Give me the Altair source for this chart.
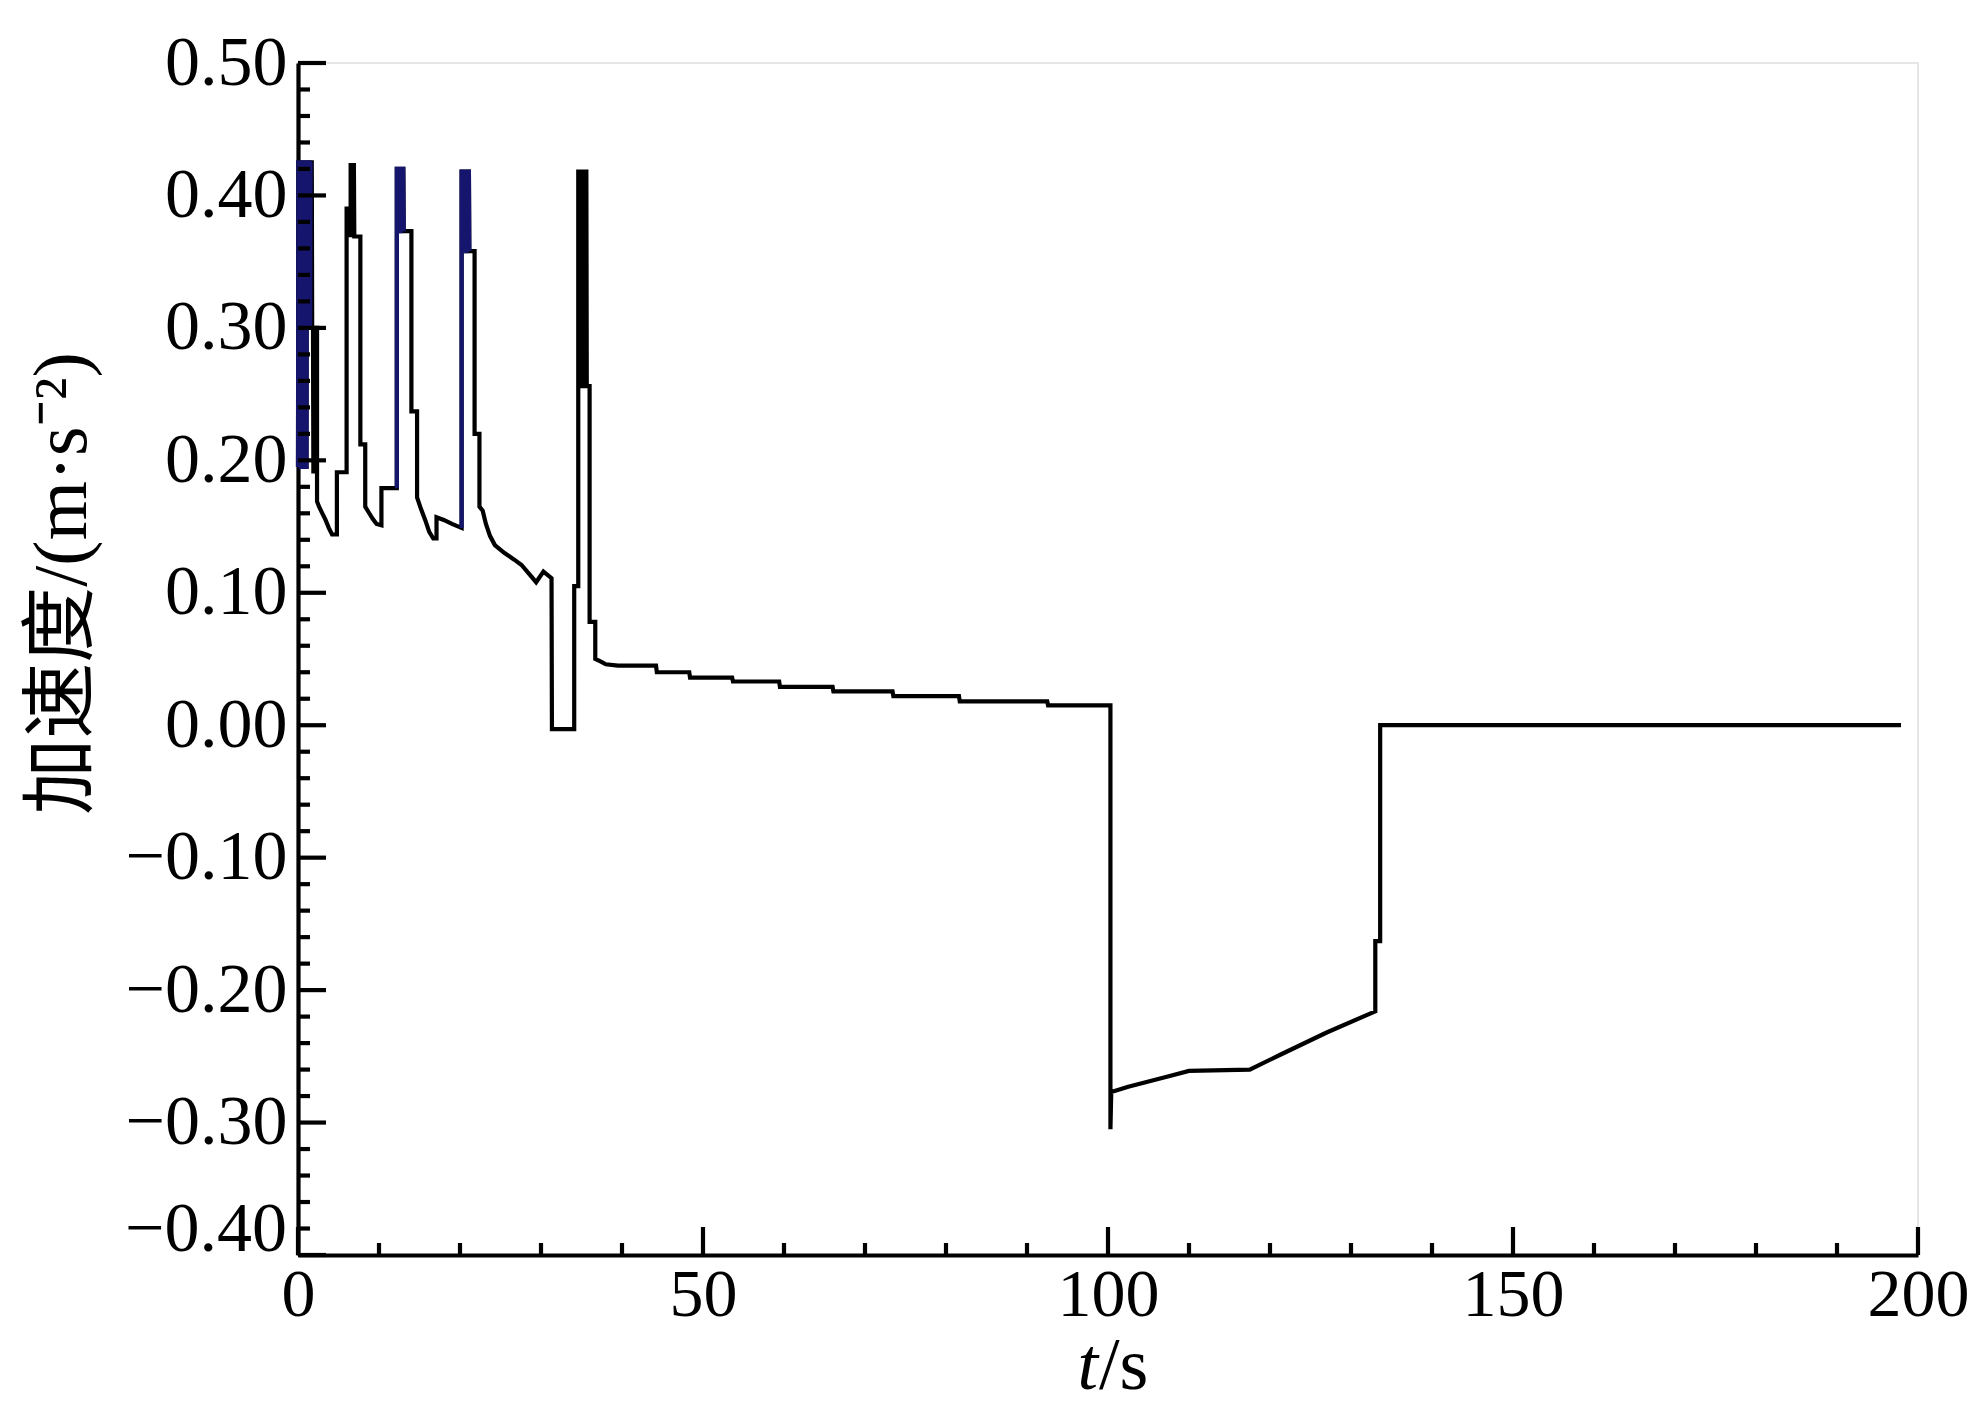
import altair as alt
import pandas as pd

# ---- data ----
t_s = [0.00, 0.05, 0.30, 0.35, 0.55, 0.60, 0.85, 0.90, 1.05, 1.10, 1.35, 1.40, 1.50, 1.55, 1.70,
       1.75, 1.85, 1.90, 1.95, 2.35, 2.35, 2.60, 3.00, 3.40, 3.80, 4.20, 4.80, 4.80, 6.00, 6.00,
       6.30, 6.30, 6.50, 6.50, 6.90, 6.95, 7.70, 7.70, 8.30, 8.30, 8.70, 9.20, 9.70, 10.30, 10.30,
       12.20, 12.20, 12.50, 12.55, 12.70, 12.75, 13.00, 13.05, 14.00, 14.00, 14.70, 14.70, 15.20,
       15.70, 16.20, 16.70, 17.10, 17.10, 18.00, 19.00, 20.20, 20.20, 20.60, 20.65, 20.80, 20.85,
       21.10, 21.15, 21.80, 21.80, 22.40, 22.40, 22.80, 23.20, 23.70, 24.30, 25.50, 26.70, 27.60,
       29.40, 30.30, 31.30, 31.35, 34.10, 34.10, 34.60, 34.60, 35.00, 35.05, 35.20, 35.25, 35.60,
       35.65, 36.00, 36.00, 36.70, 36.70, 37.40, 38.00, 39.50, 44.20, 44.30, 48.30, 48.40, 53.60,
       53.70, 59.40, 59.50, 66.00, 66.10, 73.40, 73.50, 81.60, 81.70, 92.50, 92.60, 100.30,
       100.30, 100.40, 102.50, 105.00, 107.50, 110.00, 117.50, 121.20, 127.00, 133.00, 133.00,
       133.60, 133.60, 197.90]
acc = [0.195, 0.425, 0.425, 0.195, 0.195, 0.425, 0.425, 0.195, 0.195, 0.425, 0.425, 0.300, 0.300,
       0.425, 0.425, 0.300, 0.300, 0.190, 0.300, 0.300, 0.169, 0.165, 0.160, 0.155, 0.149, 0.144,
       0.144, 0.191, 0.191, 0.390, 0.390, 0.370, 0.370, 0.423, 0.423, 0.369, 0.369, 0.212, 0.212,
       0.165, 0.161, 0.156, 0.152, 0.151, 0.179, 0.179, 0.420, 0.420, 0.373, 0.373, 0.420, 0.420,
       0.373, 0.373, 0.237, 0.237, 0.172, 0.163, 0.155, 0.146, 0.141, 0.141, 0.157, 0.155, 0.152,
       0.149, 0.418, 0.418, 0.358, 0.358, 0.418, 0.418, 0.358, 0.358, 0.220, 0.220, 0.165, 0.162,
       0.152, 0.143, 0.136, 0.130, 0.125, 0.121, 0.108, 0.116, 0.111, -0.003, -0.003, 0.105,
       0.105, 0.418, 0.418, 0.256, 0.256, 0.418, 0.418, 0.256, 0.256, 0.078, 0.078, 0.050, 0.048,
       0.046, 0.045, 0.045, 0.040, 0.040, 0.036, 0.036, 0.033, 0.033, 0.029, 0.029, 0.0255,
       0.0255, 0.022, 0.022, 0.018, 0.018, 0.015, 0.015, -0.305, -0.277, -0.273, -0.269, -0.265,
       -0.261, -0.260, -0.249, -0.232, -0.216, -0.163, -0.163, 0.000, 0.000]

# time ranges of the spikes drawn with a navy tint in the reference
navy_ranges = [(0.0, 1.70), (12.2, 13.05), (20.2, 21.15)]

x_major = [0, 50, 100, 150, 200]
x_minor = [10, 20, 30, 40, 60, 70, 80, 90, 110, 120, 130, 140, 160, 170, 180, 190]
y_major = [-0.4, -0.3, -0.2, -0.1, 0.0, 0.1, 0.2, 0.3, 0.4, 0.5]
y_minor = [-0.38, -0.36, -0.34, -0.32, -0.28, -0.26, -0.24, -0.22, -0.18, -0.16, -0.14, -0.12,
           -0.08, -0.06, -0.04, -0.02, 0.02, 0.04, 0.06, 0.08, 0.12, 0.14, 0.16, 0.18,
           0.22, 0.24, 0.26, 0.28, 0.32, 0.34, 0.36, 0.38, 0.42, 0.44, 0.46, 0.48]
y_label_shifted = [-0.4]

x_title_italic = "t"
x_title_rest = "/s"
y_title = "加速度/(m·s⁻²)"

# ---- build ----
W, H = 1620, 1192
FONT = "Liberation Serif, Times New Roman, Noto Sans CJK SC"
LW = 4.2
YLAB = 70
XLAB = 68

df = pd.DataFrame({"t": t_s, "a": acc, "i": list(range(len(t_s)))})
band = []
for tv in t_s:
    b = -1
    for k, (lo, hi) in enumerate(navy_ranges):
        if lo <= tv <= hi:
            b = k
    band.append(b)
df["band"] = band

xs = alt.Scale(domain=[0, 200], nice=False, zero=False)
ys = alt.Scale(domain=[-0.4, 0.5], nice=False, zero=False)

x_axis = alt.Axis(
    values=x_major, format="d", ticks=False, grid=False,
    domainColor="black", domainWidth=LW,
    labelFont=FONT, labelFontSize=XLAB, labelColor="black", labelPadding=6,
    labelFlush=False, title=None)
y_axis = alt.Axis(
    values=y_major, ticks=False, grid=False,
    domainColor="black", domainWidth=LW,
    labelFont=FONT, labelFontSize=YLAB, labelColor="black", labelPadding=11,
    labelFlush=False,
    labelExpr="datum.value < -0.35 ? '' : replace(format(datum.value, '.2f'), '-', '\u2212')",
    title=y_title, titleFont=FONT, titleFontSize=76, titleFontWeight="normal",
    titleColor="black", titleAngle=270, titleX=-236, titleY=520,
    titleAlign="center", titleBaseline="middle")

line = alt.Chart(df).mark_line(color="black", strokeWidth=LW, strokeJoin="miter").encode(
    x=alt.X("t:Q", scale=xs, axis=x_axis),
    y=alt.Y("a:Q", scale=ys, axis=y_axis),
    order="i:Q",
)

navy = alt.Chart(df).transform_filter("datum.band >= 0").mark_line(
    color="#15156e", strokeWidth=LW).encode(
    x=alt.X("t:Q", scale=xs),
    y=alt.Y("a:Q", scale=ys),
    detail="band:N",
    order="i:Q",
)

ymaj = alt.Chart(pd.DataFrame({"v": y_major})).mark_rule(color="black", strokeWidth=LW).encode(
    y=alt.Y("v:Q", scale=ys), x=alt.value(0), x2=alt.value(28))
ymin = alt.Chart(pd.DataFrame({"v": y_minor})).mark_rule(color="black", strokeWidth=LW).encode(
    y=alt.Y("v:Q", scale=ys), x=alt.value(0), x2=alt.value(12))
xmaj = alt.Chart(pd.DataFrame({"v": x_major})).mark_rule(color="black", strokeWidth=LW).encode(
    x=alt.X("v:Q", scale=xs), y=alt.value(H), y2=alt.value(H - 28))
xmin = alt.Chart(pd.DataFrame({"v": x_minor})).mark_rule(color="black", strokeWidth=LW).encode(
    x=alt.X("v:Q", scale=xs), y=alt.value(H), y2=alt.value(H - 12))

ylab = alt.Chart(pd.DataFrame({"v": y_label_shifted})).transform_calculate(
    lab="replace(format(datum.v, '.2f'), '-', '\u2212')"
).mark_text(font=FONT, fontSize=YLAB, color="black", align="right", baseline="middle", dy=-25).encode(
    y=alt.Y("v:Q", scale=ys), x=alt.value(-11), text="lab:N")

# x-axis title: italic "t" + upright "/s", placed under the axis (anchored at the bottom of the y range)
tdf = pd.DataFrame({"v": [-0.4], "x": [100], "s1": [x_title_italic], "s2": [x_title_rest]})
xt1 = alt.Chart(tdf).mark_text(
    font=FONT, fontSize=74, fontStyle="italic", color="black", align="right",
    baseline="alphabetic", dy=134, dx=-10
).encode(text="s1:N", x=alt.X("x:Q", scale=xs), y=alt.Y("v:Q", scale=ys))
xt2 = alt.Chart(tdf).mark_text(
    font=FONT, fontSize=74, color="black", align="left",
    baseline="alphabetic", dy=134, dx=-9
).encode(text="s2:N", x=alt.X("x:Q", scale=xs), y=alt.Y("v:Q", scale=ys))

chart = alt.layer(line, navy, ymin, ymaj, xmin, xmaj, ylab, xt1, xt2).properties(
    width=W, height=H,
    autosize=alt.AutoSizeParams(type="none"),
    padding={"left": 290, "top": 55, "right": 53, "bottom": 151},
    background="white",
).configure_view(stroke="#e6e6e6", strokeWidth=2)

chart.save("out.html", embed_options={"renderer": "svg", "actions": False})
